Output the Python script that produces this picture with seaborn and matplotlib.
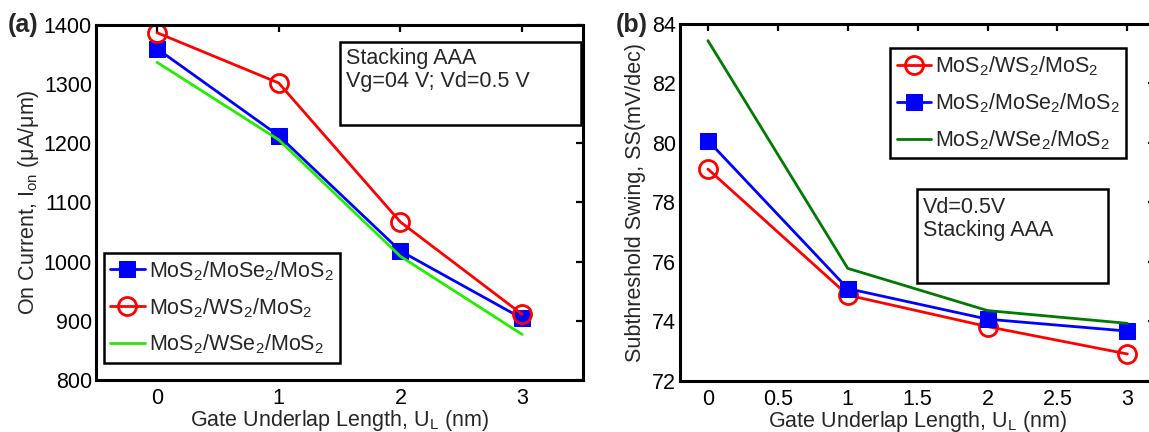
import matplotlib
matplotlib.use("Agg")
import matplotlib.pyplot as plt
from matplotlib.patches import Rectangle
import seaborn as sns
import pandas as pd

# ---- data ----
underlap = [0, 1, 2, 3]

# (a) On current (uA/um)
ion_mose2 = [1360, 1213, 1018, 904]
ion_ws2 = [1387, 1302, 1067, 911]
ion_wse2 = [1337, 1206, 1009, 877]

# (b) Subthreshold swing (mV/dec)
ss_ws2 = [79.12, 74.88, 73.82, 72.9]
ss_mose2 = [80.08, 75.1, 74.07, 73.67]
ss_wse2 = [83.44, 75.78, 74.36, 73.93]

lbl_mose2 = r"MoS$_2$/MoSe$_2$/MoS$_2$"
lbl_ws2 = r"MoS$_2$/WS$_2$/MoS$_2$"
lbl_wse2 = r"MoS$_2$/WSe$_2$/MoS$_2$"

a_xticks = [0, 1, 2, 3]
a_yticks = [800, 900, 1000, 1100, 1200, 1300, 1400]
b_xticks = [0, 0.5, 1, 1.5, 2, 2.5, 3]
b_xticklabels = ["0", "0.5", "1", "1.5", "2", "2.5", "3"]
b_yticks = [72, 74, 76, 78, 80, 82, 84]

sns.set_theme(style="white")
plt.rcParams["font.family"] = ["Liberation Sans", "DejaVu Sans"]
plt.rcParams["mathtext.fontset"] = "custom"
plt.rcParams["mathtext.rm"] = "Liberation Sans"
plt.rcParams["mathtext.it"] = "Liberation Sans:italic"
plt.rcParams["mathtext.bf"] = "Liberation Sans:bold"

FS = 15.5
fig = plt.figure(figsize=(11.49, 4.32), dpi=100)
axA = fig.add_axes([0.0836, 0.1204, 0.4238, 0.8218])
axB = fig.add_axes([0.5918, 0.1187, 0.4137, 0.8257])

dfA = pd.DataFrame({"x": underlap, "mose2": ion_mose2, "ws2": ion_ws2, "wse2": ion_wse2})
dfB = pd.DataFrame({"x": underlap, "mose2": ss_mose2, "ws2": ss_ws2, "wse2": ss_wse2})

LW = 2.0
BLUE = "#0000ff"
RED = "#ff0000"
LIME = "#22ee00"
DKGREEN = "#007a00"

# panel (a)
sns.lineplot(data=dfA, x="x", y="mose2", ax=axA, color=BLUE, lw=LW, marker="s",
             markersize=11, markeredgecolor=BLUE, markerfacecolor=BLUE, label=lbl_mose2)
sns.lineplot(data=dfA, x="x", y="ws2", ax=axA, color=RED, lw=LW, marker="o",
             markersize=13, markeredgecolor=RED, markerfacecolor="none",
             markeredgewidth=2.0, label=lbl_ws2)
sns.lineplot(data=dfA, x="x", y="wse2", ax=axA, color=LIME, lw=LW, label=lbl_wse2)

# panel (b)
sns.lineplot(data=dfB, x="x", y="ws2", ax=axB, color=RED, lw=LW, marker="o",
             markersize=13, markeredgecolor=RED, markerfacecolor="none",
             markeredgewidth=2.0, label=lbl_ws2)
sns.lineplot(data=dfB, x="x", y="mose2", ax=axB, color=BLUE, lw=LW, marker="s",
             markersize=11, markeredgecolor=BLUE, markerfacecolor=BLUE, label=lbl_mose2)
sns.lineplot(data=dfB, x="x", y="wse2", ax=axB, color=DKGREEN, lw=LW, label=lbl_wse2)

for ax in (axA, axB):
    for s in ax.spines.values():
        s.set_visible(True)
        s.set_color("black")
        s.set_linewidth(2.2)
    ax.tick_params(direction="in", length=5, width=1.6, top=True, right=True,
                   labelsize=FS, colors="black", pad=3)
    ax.tick_params(axis="x", pad=6)

axA.set_xlim(-0.5, 3.5)
axA.set_ylim(800, 1400)
axA.set_xticks(a_xticks)
axA.set_yticks(a_yticks)
axA.set_xlabel(r"Gate Underlap Length, U$_\mathrm{L}$ (nm)", fontsize=FS, labelpad=-1)
axA.set_ylabel(r"On Current, I$_\mathrm{on}$ ($\mathrm{\mu}$A/$\mathrm{\mu}$m)", fontsize=FS, labelpad=2)

axB.set_xlim(-0.2, 3.2)
axB.set_ylim(72, 84)
axB.set_xticks(b_xticks)
axB.set_xticklabels(b_xticklabels)
axB.set_yticks(b_yticks)
axB.set_xlabel(r"Gate Underlap Length, U$_\mathrm{L}$ (nm)", fontsize=FS, labelpad=-1)
axB.set_ylabel("Subthreshold Swing, SS(mV/dec)", fontsize=FS, labelpad=4)

leg_kw = dict(fontsize=FS, frameon=True, fancybox=False, edgecolor="black",
              handlelength=1.6, handletextpad=0.2, labelspacing=0.62,
              borderpad=0.3, borderaxespad=0)
legA = axA.legend(loc="lower left", bbox_to_anchor=(0.0156, 0.048), **leg_kw)
legB = axB.legend(loc="upper left", bbox_to_anchor=(0.442, 0.9336), **leg_kw)
for lg in (legA, legB):
    lg.get_frame().set_linewidth(1.8)
    lg.get_frame().set_alpha(1)

# annotation boxes
axA.add_patch(Rectangle((0.501, 0.718), 0.494, 0.235, transform=axA.transAxes,
                        fill=True, facecolor="white", edgecolor="black", lw=1.8, zorder=5))
axA.text(0.513, 0.935, "Stacking AAA\nVg=04 V; Vd=0.5 V", transform=axA.transAxes,
         fontsize=FS, va="top", ha="left", linespacing=1.15, zorder=6)
axB.add_patch(Rectangle((0.4986, 0.274), 0.402, 0.2634, transform=axB.transAxes,
                        fill=True, facecolor="white", edgecolor="black", lw=1.8, zorder=5))
axB.text(0.511, 0.515, "Vd=0.5V\nStacking AAA", transform=axB.transAxes,
         fontsize=FS, va="top", ha="left", linespacing=1.15, zorder=6)

fig.text(0.007, 0.942, "(a)", fontsize=18, fontweight="bold", va="center", ha="left")
fig.text(0.536, 0.942, "(b)", fontsize=18, fontweight="bold", va="center", ha="left")

fig.savefig("out.png", dpi=100)
